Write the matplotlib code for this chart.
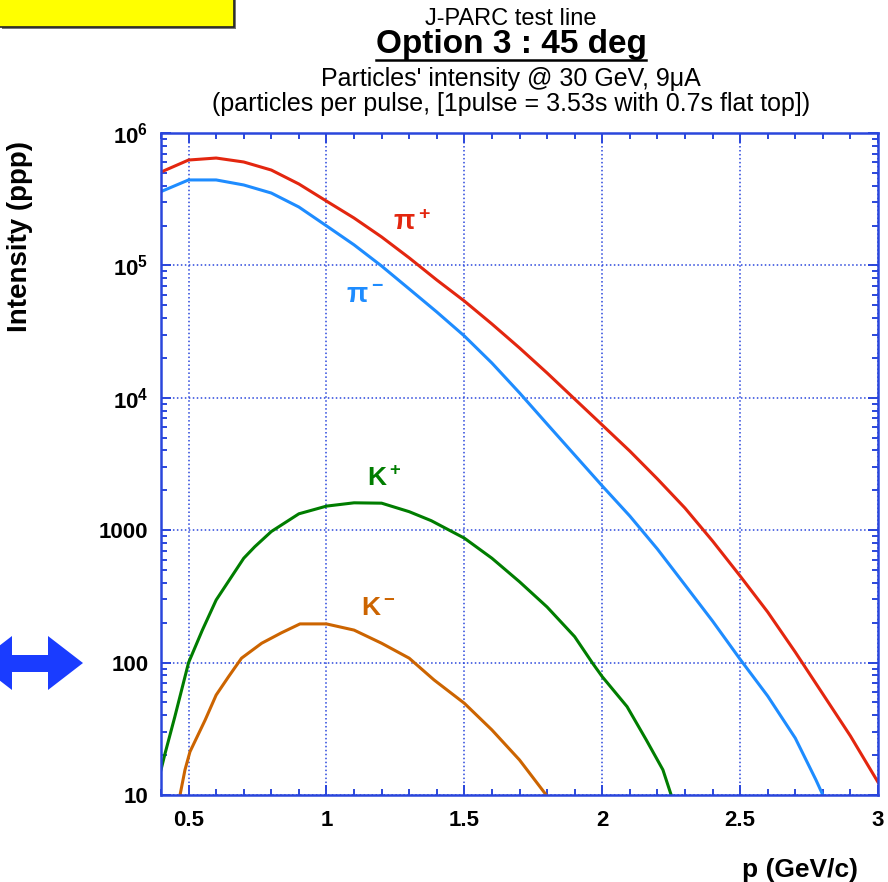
import numpy as np
import matplotlib
matplotlib.use('Agg')
from matplotlib import pyplot as plt
from matplotlib.patches import Rectangle, Polygon
from matplotlib.lines import Line2D
from matplotlib.ticker import FixedLocator, MultipleLocator, LogLocator, NullFormatter

plt.rcParams['font.family'] = ['Liberation Sans', 'DejaVu Sans']
plt.rcParams['mathtext.fontset'] = 'custom'
plt.rcParams['mathtext.rm'] = 'Liberation Sans:bold'
plt.rcParams['mathtext.bf'] = 'Liberation Sans:bold'
plt.rcParams['mathtext.default'] = 'bf'

# 数据 (p in GeV/c, intensity in ppp)
p_pi = [0.4, 0.5, 0.6, 0.7, 0.8, 0.9, 1.0, 1.1, 1.2, 1.3, 1.4, 1.5, 1.6, 1.7,
        1.8, 1.9, 2.0, 2.1, 2.2, 2.3, 2.4, 2.5, 2.6, 2.7, 2.8, 2.9, 3.0]
pi_plus = [507000, 625000, 647000, 604000, 525000, 412000, 306000, 228000,
           164000, 114000, 77600, 53800, 36100, 23800, 15400, 9790, 6230,
           3960, 2440, 1470, 829, 451, 241, 120, 57.9, 27.9, 12.5]

p_pim = [0.4, 0.5, 0.6, 0.7, 0.8, 0.9, 1.0, 1.1, 1.2, 1.3, 1.4, 1.5, 1.6, 1.7,
         1.8, 1.9, 2.0, 2.1, 2.2, 2.3, 2.4, 2.5, 2.6, 2.7, 2.775, 2.8]
pi_minus = [361000, 442000, 442000, 405000, 352000, 276000, 199000, 143000,
            98900, 66400, 44500, 29300, 18300, 10900, 6340, 3700, 2160,
            1280, 721, 386, 206, 106, 55.9, 26.9, 13.0, 10]

p_kp = [0.4, 0.415, 0.45, 0.5, 0.55, 0.6, 0.7, 0.74, 0.8, 0.9, 1.0,
        1.1, 1.2, 1.3, 1.38, 1.5, 1.6, 1.7, 1.8, 1.9, 1.965, 2.0,
        2.09, 2.16, 2.22, 2.25]
k_plus = [15.5, 20.7, 38.9, 100, 176, 297, 614, 750, 977, 1330, 1520,
          1610, 1600, 1380, 1180, 871, 614, 408, 263, 157, 98.9, 78.3,
          46.5, 26, 15.5, 10]

p_km = [0.469, 0.487, 0.505, 0.56, 0.6, 0.645, 0.692, 0.765, 0.837, 0.904,
        1.0, 1.1, 1.2, 1.3, 1.39, 1.5, 1.6, 1.7, 1.797]
k_minus = [10, 15.5, 21.2, 36.8, 56.9, 78.3, 108, 140, 168, 196, 196, 176,
           140, 108, 74, 49.3, 31, 18.4, 10]

y_ticks = [10, 100, 1000, 1e4, 1e5, 1e6]
y_ticklabels = ['10', '100', '1000', r'10$^4$', r'10$^5$', r'10$^6$']
x_ticks = [0.5, 1, 1.5, 2, 2.5, 3]
x_ticklabels = ['0.5', '1', '1.5', '2', '2.5', '3']

W, H = 888, 882
AXC = '#2a46dc'

fig = plt.figure(figsize=(W / 100, H / 100), dpi=100)
ax = fig.add_axes([161 / W, 87 / H, 717 / W, 662 / H])

ax.plot(p_pi, pi_plus, color='#e3260f', lw=2.2)
ax.plot(p_pim, pi_minus, color='#1e8cff', lw=2.2)
ax.plot(p_kp, k_plus, color='#007d00', lw=2.2)
ax.plot(p_km, k_minus, color='#cc6400', lw=2.2)

ax.set_yscale('log')
ax.set_xlim(0.4, 3.0)
ax.set_ylim(10, 1e6)

ax.yaxis.set_major_locator(FixedLocator(y_ticks))
ax.set_yticklabels(y_ticklabels)
ax.yaxis.set_minor_locator(LogLocator(base=10, subs=np.arange(2, 10)))
ax.yaxis.set_minor_formatter(NullFormatter())
ax.xaxis.set_major_locator(FixedLocator(x_ticks))
ax.set_xticklabels(x_ticklabels)
ax.xaxis.set_minor_locator(MultipleLocator(0.1))

for s in ax.spines.values():
    s.set_color(AXC)
    s.set_linewidth(1.8)
ax.tick_params(which='both', direction='in', color=AXC, top=True, right=True,
               labelsize=16, width=1.4)
ax.tick_params(which='major', length=7)
ax.tick_params(which='minor', length=4.5)
ax.tick_params(axis='x', pad=11)
ax.tick_params(axis='y', pad=9)
for lb in ax.get_xticklabels() + ax.get_yticklabels():
    lb.set_fontweight('bold')

ax.grid(True, which='major', color=AXC, ls=(0, (1, 1.6)), lw=1.1)

ax.set_ylabel('Intensity (ppp)', fontsize=20, fontweight='bold')
ax.yaxis.set_label_coords(-0.1785, 0.843)
ax.set_xlabel('p (GeV/c)', fontsize=19, fontweight='bold')
ax.xaxis.set_label_coords(0.891, -0.095)

# curve labels
ax.text(1.31, 2.1e5, r'π$^+$', color='#e3260f', fontsize=20, fontweight='bold',
        ha='center', va='center')
ax.text(1.14, 5.9e4, r'π$^-$', color='#1e8cff', fontsize=20, fontweight='bold',
        ha='center', va='center')
ax.text(1.21, 2450, r'K$^+$', color='#007d00', fontsize=19, fontweight='bold',
        ha='center', va='center')
ax.text(1.19, 260, r'K$^-$', color='#cc6400', fontsize=19, fontweight='bold',
        ha='center', va='center')

# titles
cx = 511 / W
fig.text(cx, 1 - 19 / H, 'J-PARC test line', ha='center', va='center',
         fontsize=17)
t2 = fig.text(cx, 1 - 45 / H, 'Option 3 : 45 deg', ha='center', va='center',
              fontsize=24, fontweight='bold')
fig.text(cx, 1 - 79 / H, "Particles' intensity @ 30 GeV, 9μA", ha='center',
         va='center', fontsize=18)
fig.text(cx, 1 - 104 / H, '(particles per pulse, [1pulse = 3.53s with 0.7s flat top])',
         ha='center', va='center', fontsize=18)

fig.canvas.draw()
bb = t2.get_window_extent(fig.canvas.get_renderer())
fig.add_artist(Line2D([bb.x0 / W, bb.x1 / W], [(bb.y0 + 1) / H] * 2,
                      transform=fig.transFigure, color='black', lw=1.8))

# yellow box top-left
fig.add_artist(Rectangle((2 / W, 1 - 29 / H), 234 / W, 29 / H,
                         transform=fig.transFigure, color='#777777', lw=0))
fig.add_artist(Rectangle((-2 / W, 1 - 27 / H), 236 / W, 29 / H,
                         transform=fig.transFigure, facecolor='#ffff00',
                         edgecolor='#222222', lw=1.2))

# blue double arrow
pts = [(-23, 663), (12, 636), (12, 655), (48, 655), (48, 636), (83, 663),
       (48, 690), (48, 672), (12, 672), (12, 690)]
fig.add_artist(Polygon([(x / W, 1 - y / H) for x, y in pts], closed=True,
                       transform=fig.transFigure, facecolor='#1a3cff',
                       edgecolor='none'))

fig.savefig('out.png', dpi=100)
